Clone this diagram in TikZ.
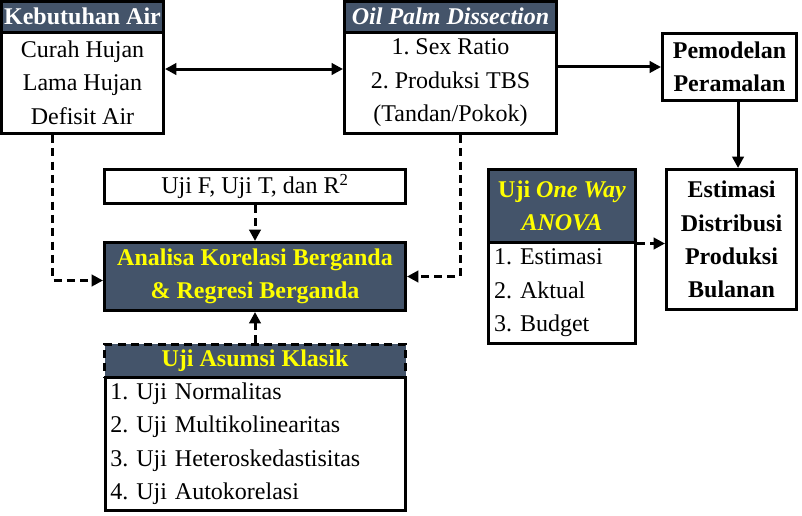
\documentclass[tikz,border=0pt]{standalone}
\usepackage{fontspec}
\setmainfont{Liberation Serif}
\usepackage{tikz}
\usetikzlibrary{arrows.meta}
\usetikzlibrary{positioning}

\definecolor{hdrblue}{HTML}{44546A}
\definecolor{hdryellow}{HTML}{FFFF00}
\newcommand{\diagfont}{\fontsize{18}{25}\selectfont\frenchspacing}

\tikzset{
    boxline/.style={draw=black, line width=2.25pt, inner sep=2pt, font=\diagfont},
    hdrbox/.style={boxline, fill=hdrblue, text=white, font=\diagfont\bfseries, inner xsep=0pt},
    hdrhi/.style={hdrbox, text=hdryellow},
    bodybox/.style={boxline, fill=white, align=center},
    listbox/.style={boxline, fill=white, align=left, inner xsep=4pt},
    solidarr/.style={line width=2.25pt, -{Triangle[length=8.5pt,width=8.5pt]}},
    dblarr/.style={line width=2.25pt, {Triangle[length=8.5pt,width=8.5pt]}-{Triangle[length=8.5pt,width=8.5pt]}},
    dasharr/.style={line width=2.25pt, dash pattern=on 6pt off 4pt, -{Triangle[length=8.5pt,width=8.5pt]}}
}

\begin{document}
\begin{tikzpicture}[x=0.75pt, y=-0.75pt]
            \useasboundingbox (0,0) rectangle (802,516);

            % Kebutuhan Air
            \node[hdrbox, minimum width=121.5pt, minimum height=22.9pt] (kebH) at (82.5,16.75) {Kebutuhan Air};
            \node[bodybox, minimum width=121.5pt, minimum height=76.1pt] (kebB) at (82.5,82.75) {Curah Hujan\\Lama Hujan\\Defisit Air};

            % Oil palm dissection
            \node[hdrbox, font=\diagfont\bfseries\itshape, minimum width=159pt, minimum height=22.9pt] (oilH) at (450.5,16.75) {Oil Palm Dissection};
            \node[bodybox, minimum width=159pt, minimum height=76.1pt] (oilB) at (450.5,82.75) {1. Sex Ratio\\2. Produksi TBS\\(Tandan/Pokok)};

            % Pemodelan dan estimasi
            \node[bodybox, font=\diagfont\bfseries, minimum width=100.5pt, minimum height=50.25pt] (pem) at (729.5,67) {Pemodelan\\Peramalan};
            \node[bodybox, font=\diagfont\bfseries, minimum width=97.5pt, minimum height=105pt] (est) at (731.5,239.5) {Estimasi\\Distribusi\\Produksi\\Bulanan};

            % Uji One Way ANOVA
            \node[hdrhi, align=center, minimum width=110.25pt, minimum height=54.4pt] (anoH) at (562,205.75) {Uji \textit{One Way}\\\textit{ANOVA}};
            \node[listbox, text width=102pt, minimum height=76.1pt] (anoB) at (562,292.75) {1. Estimasi\\2. Aktual\\3. Budget};

            % Analisa
            \node[bodybox, minimum width=225.75pt, minimum height=25.5pt] (ujiF) at (255,186.5) {Uji F, Uji T, dan R\textsuperscript{2}};
            \node[hdrhi, align=center, minimum width=225.75pt, minimum height=51pt] (ana) at (255,276.5) {Analisa Korelasi Berganda\\\& Regresi Berganda};

            % Uji asumsi klasik
            \node[hdrhi, dash pattern=on 6pt off 4pt, minimum width=225.75pt, minimum height=24.4pt] (asuH) at (255,360.75) {Uji Asumsi Klasik};
            \node[listbox, text width=217pt, minimum height=100.1pt] (asuB) at (255,443.75) {1. Uji Normalitas\\2. Uji Multikolinearitas\\3. Uji Heteroskedastisitas\\4. Uji Autokorelasi};

            % Connectors
            \draw[dblarr] ([yshift=10.3pt]kebB.east) -- ([yshift=10.3pt]oilB.west);
            \draw[solidarr] (oilB.east |- pem.west) -- (pem.west);
            \draw[solidarr] ([xshift=6.4pt]pem.south) -- ([xshift=6.4pt]pem.south |- est.north);
            \draw[dasharr] (anoH.south east) -- (anoH.south east -| est.west);
            \draw[dasharr] (ujiF.south) -- (ana.north);
            \draw[dasharr] (asuH.north) -- (ana.south);
            \draw[dasharr] ([xshift=-22.5pt]kebB.south) |- ([yshift=-3pt]ana.west);
            \draw[dasharr] ([xshift=7.5pt]oilB.south) |- (ana.east);

        \end{tikzpicture}
\end{document}
